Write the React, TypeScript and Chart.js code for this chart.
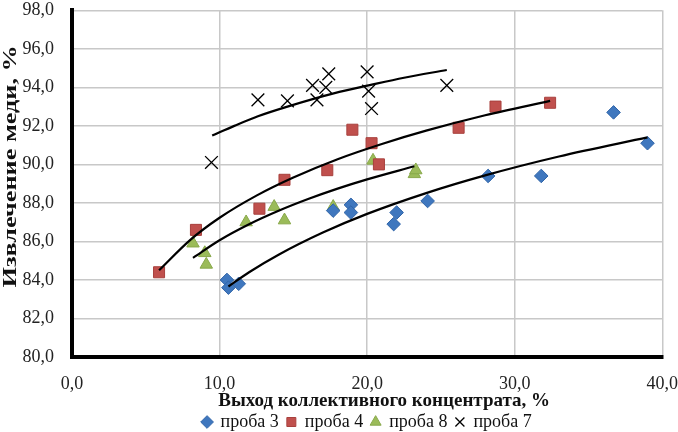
import React, { useEffect, useRef } from "react";
import { Chart, registerables } from "chart.js";

Chart.register(...registerables);

// проба 3
const sample3X = [10.5, 10.6, 11.3, 17.7, 18.9, 18.9, 22.0, 21.8, 24.1, 28.2, 31.8, 36.7, 39.0];
const sample3Y = [84.0, 83.6, 83.8, 87.6, 87.9, 87.5, 87.5, 86.9, 88.1, 89.4, 89.4, 92.7, 91.1];
// проба 4
const sample4X = [5.9, 8.4, 12.7, 14.4, 17.3, 19.0, 20.3, 20.8, 26.2, 28.7, 32.4];
const sample4Y = [84.4, 86.6, 87.7, 89.2, 89.7, 91.8, 91.1, 90.0, 91.9, 93.0, 93.2];
// проба 8
const sample8X = [8.2, 9.0, 9.1, 11.8, 13.7, 14.4, 17.7, 20.4, 23.2, 23.3];
const sample8Y = [85.9, 85.4, 84.8, 87.0, 87.8, 87.1, 87.8, 90.2, 89.5, 89.7];
// проба 7
const sample7X = [9.45, 12.6, 14.6, 16.3, 16.6, 17.2, 17.4, 20.0, 20.1, 20.3, 25.4];
const sample7Y = [90.1, 93.35, 93.3, 94.1, 93.35, 94.0, 94.7, 94.8, 93.8, 92.9, 94.1];

// trend lines
const trend3X = [10.6, 12, 14, 17, 20, 24, 28, 33, 39];
const trend3Y = [83.66, 84.4, 85.31, 86.46, 87.43, 88.51, 89.43, 90.41, 91.4];
const trend4X = [5.9, 8, 10, 12.5, 15, 18, 21, 24, 28, 32.4];
const trend4Y = [84.5, 86.07, 87.23, 88.38, 89.32, 90.27, 91.06, 91.75, 92.55, 93.3];
const trend8X = [8.2, 10, 12, 14, 16, 18, 20, 23.2];
const trend8Y = [85.15, 86.06, 86.89, 87.59, 88.2, 88.74, 89.22, 89.9];
const trend7X = [9.5, 11, 12.6, 14.6, 17.8, 20.1, 22.5, 25.4];
const trend7Y = [91.5, 92.0, 92.5, 93.0, 93.7, 94.1, 94.5, 94.9];

const seriesLabels = ["проба 3", "проба 4", "проба 8", "проба 7"];
const xTitle = "Выход коллективного концентрата, %";
const yTitle = "Извлечение меди, %";

const pts = (xs: number[], ys: number[]) => xs.map((x, i) => ({ x, y: ys[i] }));
const fmt = (v: number | string) => Number(v).toFixed(1).replace(".", ",");

const SERIF = "'Liberation Serif', 'Times New Roman', serif";

const titlesPlugin = {
  id: "axisTitles",
  afterDraw(chart: any) {
    const { ctx, chartArea } = chart;
    ctx.save();
    ctx.fillStyle = "#111";
    ctx.textAlign = "center";
    ctx.textBaseline = "middle";
    // x title
    ctx.font = `bold 19px ${SERIF}`;
    ctx.fillText(xTitle, (chartArea.left + chartArea.right) / 2 + 17, chartArea.bottom + 44);
    // y title
    ctx.font = `bold 19px ${SERIF}`;
    ctx.translate(11, chartArea.top + (chartArea.bottom - chartArea.top) * 0.45);
    ctx.rotate(-Math.PI / 2);
    ctx.scale(1.38, 1);
    ctx.fillText(yTitle, 0, 0);
    ctx.restore();
  },
};

export default function App() {
  const ref = useRef<HTMLCanvasElement | null>(null);

  useEffect(() => {
    document.body.style.margin = "0";
    const canvas = ref.current;
    if (!canvas) return;
    const trendStyle = {
      showLine: true,
      borderColor: "#000",
      borderWidth: 2.2,
      pointRadius: 0,
      pointHoverRadius: 0,
      cubicInterpolationMode: "monotone" as const,
      fill: false,
    };
    const chart = new Chart(canvas, {
      type: "scatter",
      data: {
        datasets: [
          { label: "t3", data: pts(trend3X, trend3Y), ...trendStyle },
          { label: "t4", data: pts(trend4X, trend4Y), ...trendStyle },
          { label: "t8", data: pts(trend8X, trend8Y), ...trendStyle },
          { label: "t7", data: pts(trend7X, trend7Y), ...trendStyle },
          {
            label: seriesLabels[0],
            data: pts(sample3X, sample3Y),
            pointStyle: "rectRot",
            pointRadius: 6.8,
            backgroundColor: "#3F77BE",
            borderColor: "#2F64A8",
            borderWidth: 1,
          },
          {
            label: seriesLabels[1],
            data: pts(sample4X, sample4Y),
            pointStyle: "rect",
            pointRadius: 7.8,
            backgroundColor: "#C0504D",
            borderColor: "#A8403D",
            borderWidth: 1,
          },
          {
            label: seriesLabels[2],
            data: pts(sample8X, sample8Y),
            pointStyle: "triangle",
            pointRadius: 7.2,
            backgroundColor: "#9BBB59",
            borderColor: "#88A84A",
            borderWidth: 1,
          },
          {
            label: seriesLabels[3],
            data: pts(sample7X, sample7Y),
            pointStyle: "crossRot",
            pointRadius: 9,
            backgroundColor: "#000",
            borderColor: "#000",
            borderWidth: 1.3,
          },
        ],
      },
      options: {
        responsive: false,
        animation: false,
        layout: { padding: { top: 0, left: 0, right: 0, bottom: -9 } },
        plugins: {
          tooltip: { enabled: false },
          legend: {
            position: "bottom",
            fullSize: false,
            labels: {
              usePointStyle: true,
              boxWidth: 9,
              boxHeight: 9,
              padding: 8,
              color: "#111",
              font: { family: SERIF, size: 18 },
              filter: (item: any) => item.datasetIndex >= 4,
            },
          },
        },
        scales: {
          x: {
            type: "linear",
            min: 0,
            max: 40,
            ticks: {
              stepSize: 10,
              padding: 0,
              color: "#222",
              font: { family: SERIF, size: 18 },
              callback: (v: any) => fmt(v),
            },
            grid: {
              color: "#c8c8c8",
              lineWidth: 1.5,
              drawTicks: true,
              tickLength: 16,
              tickColor: "rgba(0,0,0,0)",
            },
            border: { display: true, color: "#000", width: 4 },
            afterFit: (s: any) => {
              s.height = 48;
            },
          },
          y: {
            type: "linear",
            min: 80,
            max: 98,
            ticks: {
              stepSize: 2,
              padding: 0,
              color: "#222",
              font: { family: SERIF, size: 18, lineHeight: 0.8 },
              callback: (v: any) => fmt(v),
            },
            grid: {
              color: "#c8c8c8",
              lineWidth: 1.5,
              drawTicks: true,
              tickLength: 18,
              tickColor: "rgba(0,0,0,0)",
            },
            border: { display: true, color: "#000", width: 4 },
            afterFit: (s: any) => {
              s.width = 72;
            },
          },
        },
      },
      plugins: [titlesPlugin],
    });
    return () => chart.destroy();
  }, []);

  return (
    <div style={{ width: 678, height: 432 }}>
      <canvas ref={ref} width={678} height={432} />
    </div>
  );
}
